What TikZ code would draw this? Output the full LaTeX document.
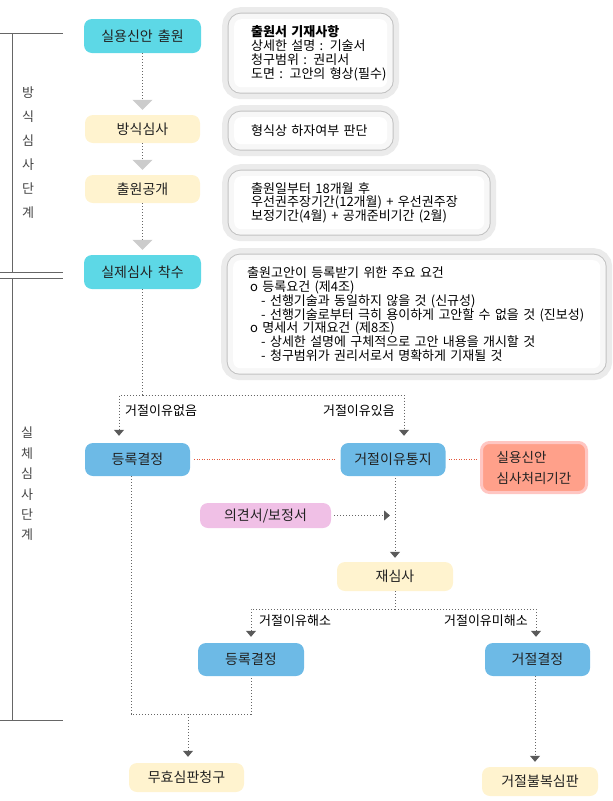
\documentclass[tikz,border=0pt]{standalone}
\usepackage{fontspec}
\setmainfont{Noto Sans CJK KR}[WordSpace=1.6]
\usetikzlibrary{arrows.meta,positioning}

\definecolor{cyanfill}{HTML}{5DD8E6}
\definecolor{creamfill}{HTML}{FFF3CF}
\definecolor{bluefill}{HTML}{6DBAE6}
\definecolor{pinkfill}{HTML}{F0C0E6}
\definecolor{salmonfill}{HTML}{FFA08A}
\definecolor{salmonedge}{HTML}{FFC6C2}
\definecolor{bandgray}{HTML}{EBEBEB}
\definecolor{framegray}{HTML}{C2C2C2}
\definecolor{padgray}{HTML}{F7F7F7}
\definecolor{linegray}{HTML}{666666}
\definecolor{tipgray}{HTML}{5A5A5A}
\definecolor{reddot}{HTML}{E2553A}
\definecolor{inkgray}{HTML}{222222}

\begin{document}
\begin{tikzpicture}[x=1pt,y=-1pt,
  flow/.style={rounded corners=8pt, inner sep=0pt, text=inkgray,
    font=\fontsize{14}{16}\selectfont, align=center},
  cyanbox/.style={flow, fill=cyanfill},
  creambox/.style={flow, fill=creamfill},
  bluebox/.style={flow, fill=bluefill},
  pinkbox/.style={flow, fill=pinkfill},
  salmonbox/.style={flow, fill=salmonfill, draw=salmonedge, line width=3pt,
    align=left, font=\fontsize{13.5}{21}\selectfont},
  info/.style={anchor=north west, fill=white, rounded corners=7pt,
    inner sep=0pt, align=left, font=\fontsize{13}{13.8}\selectfont,
    execute at begin node={\leftskip=17pt\rightskip=-20pt plus 1fil},
    preaction={draw=bandgray, line width=24pt},
    preaction={draw=framegray, line width=13pt},
    preaction={draw=padgray, line width=11pt}},
  dotline/.style={draw=linegray, line width=1pt, dash pattern=on 1pt off 2pt},
  bigtip/.style={dotline, -{Triangle[width=20pt,length=10pt,color=gray!40]},
    shorten >=5pt},
  arrowline/.style={dotline, -{Triangle[width=10pt,length=6pt,color=tipgray]}},
  reddots/.style={draw=reddot, line width=1.6pt, dash pattern=on 1pt off 1.5pt},
  lbl/.style={font=\fontsize{13}{15}\selectfont, inner sep=1pt},
  bracket/.style={draw=linegray, line width=1pt},
  stage/.style={text=inkgray!85, align=center, inner sep=0pt}
]
\useasboundingbox (0,0) rectangle (613,801);

% stage brackets
\draw[bracket] (0,33) -- (63,33) (12,33) -- (12,272) (0,272) -- (63,272);
\draw[bracket] (0,278) -- (63,278) (12,278) -- (12,720) (0,720) -- (63,720);
\node[stage, font=\fontsize{13}{24}\selectfont] (stageA) at (28,153)
  {방\\식\\심\\사\\단\\계};
\node[stage, font=\fontsize{13}{20.4}\selectfont] (stageB) at (27,484)
  {실\\체\\심\\사\\단\\계};

% main flow
\node[cyanbox, minimum width=117pt, minimum height=34pt] (apply) at (142.5,36) {실용신안 출원};
\node[creambox, minimum width=115pt, minimum height=28pt] (formal) at (142.5,129) {방식심사};
\node[creambox, minimum width=115pt, minimum height=28pt] (publish) at (142.5,189) {출원공개};
\node[cyanbox, minimum width=117pt, minimum height=34pt] (exam) at (142.5,272) {실제심사 착수};

\node[bluebox, minimum width=105pt, minimum height=33pt] (grant) at (137.5,459.5) {등록결정};
\node[bluebox, minimum width=105pt, minimum height=33pt] (notice) at (393,459.5) {거절이유통지};
\node[salmonbox, minimum width=105pt, minimum height=50pt] (period) at (534,467.5) {실용신안\\심사처리기간};
\node[pinkbox, minimum width=131pt, minimum height=25pt] (opinion) at (265.5,515.5) {의견서/보정서};
\node[creambox, minimum width=116pt, minimum height=29pt] (review) at (395,576.5) {재심사};
\node[bluebox, minimum width=106pt, minimum height=33pt] (regrant) at (251,659.5) {등록결정};
\node[bluebox, minimum width=105pt, minimum height=33pt] (refuse) at (537.5,659.5) {거절결정};
\node[creambox, minimum width=115pt, minimum height=29pt] (invalid) at (186.5,777.5) {무효심판청구};
\node[creambox, minimum width=116pt, minimum height=29pt] (appeal) at (540,781.5) {거절불복심판};

% info boxes
\node[info, text width=153pt, minimum height=68pt] (infoDoc) at (234,19)
  {{\bfseries 출원서 기재사항}\\상세한 설명 : 기술서\\청구범위 : 권리서\\도면 : 고안의 형상(필수)};
\node[info, text width=153pt, minimum height=27pt] (infoFormal) at (234,117)
  {형식상 하자여부 판단};
\node[info, text width=250pt, minimum height=53pt] (infoOpen) at (234,176)
  {출원일부터 18개월 후\\우선권주장기간(12개월) + 우선권주장\\보정기간(4월) + 공개준비기간 (2월)};
\node[info, text width=367pt, minimum height=108pt,
  execute at begin node={\leftskip=14pt}] (infoReq) at (233,260)
  {출원고안이 등록받기 위한 주요 요건\\
   \hspace*{3pt}o 등록요건 (제4조)\\
   \hspace*{14pt}- 선행기술과 동일하지 않을 것 (신규성)\\
   \hspace*{14pt}- 선행기술로부터 극히 용이하게 고안할 수 없을 것 (진보성)\\
   \hspace*{3pt}o 명세서 기재요건 (제8조)\\
   \hspace*{14pt}- 상세한 설명에 구체적으로 고안 내용을 개시할 것\\
   \hspace*{14pt}- 청구범위가 권리서로서 명확하게 기재될 것};

% connectors
\draw[bigtip] (apply) -- (formal);
\draw[bigtip] (formal) -- (publish);
\draw[bigtip] (publish) -- (exam);

\coordinate (forkA) at (142.5,395);
\draw[dotline] (exam) -- (forkA);
\draw[arrowline, shorten >=7pt] (forkA) -| ([xshift=-18.5pt]grant.north);
\draw[arrowline, shorten >=7pt] (forkA) -| ([xshift=11pt]notice.north);
\node[lbl, anchor=west] (noReason) at (124,411) {거절이유없음};
\node[lbl, anchor=east] (hasReason) at (396,411) {거절이유있음};

\draw[reddots, shorten <=4pt, shorten >=4pt] (grant) -- (notice);
\draw[reddots, shorten <=3pt, shorten >=2pt] (notice.east) -- (notice.east -| period.west);

\draw[arrowline, shorten <=3pt, shorten >=5pt] (opinion.east) -- (opinion.east -| review.north);
\draw[arrowline, shorten <=2pt, shorten >=4pt] (notice.south -| review.north) -- (review.north);

\coordinate (forkB) at (395,609);
\draw[dotline] (review) -- (forkB);
\draw[arrowline, shorten >=6pt] (forkB) -| (regrant.north);
\draw[arrowline, shorten >=6pt] (forkB) -| ([xshift=-1.5pt]refuse.north);
\node[lbl, anchor=west] (solved) at (258,621) {거절이유해소};
\node[lbl, anchor=east] (unsolved) at (529,621) {거절이유미해소};

\coordinate (merge) at (188,714);
\draw[dotline] ([xshift=-6.5pt]grant.south) |- (merge) -| (regrant.south);
\draw[arrowline, shorten >=6pt] (merge) -- (merge |- invalid.north);
\draw[arrowline, shorten >=5pt] ([xshift=-2.5pt]refuse.south) -- ([xshift=-2.5pt]refuse.south |- appeal.north);
\end{tikzpicture}
\end{document}
